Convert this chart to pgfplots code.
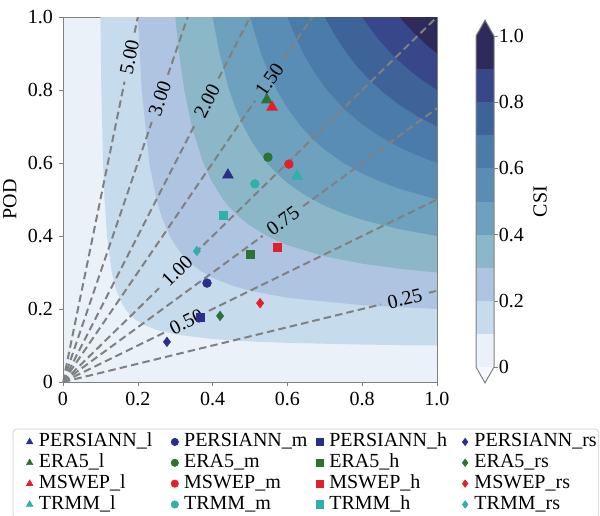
\documentclass[border=0pt]{standalone}
\usepackage{fontspec}
\setmainfont{Liberation Serif}
\usepackage{pgfplots}
\pgfplotsset{compat=1.18}
\definecolor{c0}{HTML}{EAF1F9}
\definecolor{c1}{HTML}{C6DBEC}
\definecolor{c2}{HTML}{AFC4E0}
\definecolor{c3}{HTML}{8CB7C9}
\definecolor{c4}{HTML}{6DA1BD}
\definecolor{c5}{HTML}{5A8DB5}
\definecolor{c6}{HTML}{4B7BA8}
\definecolor{c7}{HTML}{3D6399}
\definecolor{c8}{HTML}{38478A}
\definecolor{c9}{HTML}{2E2A5C}
\definecolor{cbot}{HTML}{F5F9FD}
\definecolor{axgray}{HTML}{808080}
\definecolor{lgray}{HTML}{CCCCCC}
\definecolor{persC}{HTML}{2B2F8C}
\definecolor{eraC}{HTML}{2B7233}
\definecolor{mswC}{HTML}{E3202A}
\definecolor{trmC}{HTML}{2DB1A8}
\begin{document}
\begin{tikzpicture}
\begin{axis}[
  at={(0pt,0pt)}, anchor=south west, scale only axis,
  width=224.4pt, height=219pt,
  xmin=0, xmax=1, ymin=0, ymax=1,
  xtick={0,0.2,0.4,0.6,0.8,1}, xticklabels={0,0.2,0.4,0.6,0.8,1.0},
  ytick={0,0.2,0.4,0.6,0.8,1}, yticklabels={0,0.2,0.4,0.6,0.8,1.0},
  /pgf/number format/assume math mode=true,
  tick align=outside, xtick pos=bottom, ytick pos=left,
  major tick length=2.5pt,
  axis line style={draw=axgray}, tick style={draw=axgray},
  tick label style={font=\fontsize{12}{14}\selectfont},
  ylabel={POD}, ylabel style={font=\fontsize{12}{14}\selectfont},
  axis background/.style={fill=c0},
  legend columns=4,
  legend cell align=left,
  legend image code/.code={\path (-8.3pt,0pt) (5.4pt,0pt); \draw[#1, mark size=2.2pt] plot coordinates {(0pt,0pt)};},
  legend style={at={(axis description cs:-0.1346,-0.128)}, anchor=north west,
    draw=lgray, rounded corners=2pt, inner sep=1.5pt,
    font=\fontsize{12}{12}\selectfont,
    nodes={inner ysep=0.5pt, inner xsep=0pt, text height=8.6pt, text depth=2.9pt},
    /tikz/every even column/.append style={nodes={text width=73pt}}},
]
% CSI filled bands (region CSI >= level)
\addplot[fill=c1, draw=none, forget plot] coordinates {(0.1,1)(0.10256,0.8)(0.10714,0.6)(0.1111,0.5)(0.11765,0.4)(0.13043,0.3)(0.14286,0.25)(0.15493,0.22)(0.16667,0.2)(0.1743,0.19)(0.18182,0.18182)(0.19,0.1743)(0.2,0.16667)(0.22,0.15493)(0.25,0.14286)(0.3,0.13043)(0.4,0.11765)(0.5,0.1111)(0.6,0.10714)(0.8,0.10256)(1,0.1)(1,1)} -- cycle;
\addplot[fill=c2, draw=none, forget plot] coordinates {(0.2,1)(0.21053,0.8)(0.23077,0.6)(0.25,0.5)(0.26471,0.45)(0.28571,0.4)(0.30328,0.37)(0.31818,0.35)(0.33333,0.33333)(0.35,0.31818)(0.37,0.30328)(0.4,0.28571)(0.45,0.26471)(0.5,0.25)(0.6,0.23077)(0.8,0.21053)(1,0.2)(1,1)} -- cycle;
\addplot[fill=c3, draw=none, forget plot] coordinates {(0.3,1)(0.31034,0.9)(0.32432,0.8)(0.34426,0.7)(0.375,0.6)(0.39759,0.55)(0.42857,0.5)(0.44444,0.48)(0.46154,0.46154)(0.48,0.44444)(0.5,0.42857)(0.55,0.39759)(0.6,0.375)(0.7,0.34426)(0.8,0.32432)(0.9,0.31034)(1,0.3)(1,1)} -- cycle;
\addplot[fill=c4, draw=none, forget plot] coordinates {(0.4,1)(0.4186,0.9)(0.44444,0.8)(0.46154,0.75)(0.48276,0.7)(0.5098,0.65)(0.54545,0.6)(0.57143,0.57143)(0.6,0.54545)(0.65,0.5098)(0.7,0.48276)(0.75,0.46154)(0.8,0.44444)(0.9,0.4186)(1,0.4)(1,1)} -- cycle;
\addplot[fill=c5, draw=none, forget plot] coordinates {(0.5,1)(0.52941,0.9)(0.54839,0.85)(0.57143,0.8)(0.6,0.75)(0.63636,0.7)(0.66667,0.66667)(0.7,0.63636)(0.75,0.6)(0.8,0.57143)(0.85,0.54839)(0.9,0.52941)(1,0.5)(1,1)} -- cycle;
\addplot[fill=c6, draw=none, forget plot] coordinates {(0.6,1)(0.61957,0.95)(0.64286,0.9)(0.67105,0.85)(0.70588,0.8)(0.75,0.75)(0.8,0.70588)(0.85,0.67105)(0.9,0.64286)(0.95,0.61957)(1,0.6)(1,1)} -- cycle;
\addplot[fill=c7, draw=none, forget plot] coordinates {(0.7,1)(0.72678,0.95)(0.75904,0.9)(0.79003,0.86)(0.82353,0.82353)(0.86,0.79003)(0.9,0.75904)(0.95,0.72678)(1,0.7)(1,1)} -- cycle;
\addplot[fill=c8, draw=none, forget plot] coordinates {(0.8,1)(0.8203,0.97)(0.84305,0.94)(0.86874,0.91)(0.88889,0.88889)(0.91,0.86874)(0.94,0.84305)(0.97,0.8203)(1,0.8)(1,1)} -- cycle;
\addplot[fill=c9, draw=none, forget plot] coordinates {(0.9,1)(0.91684,0.98)(0.93507,0.96)(0.94737,0.94737)(0.96,0.93507)(0.98,0.91684)(1,0.9)(1,1)} -- cycle;
% bias lines
\pgfplotsset{bias/.style={draw=axgray, line width=1.2pt, dash pattern=on 4.5pt off 2.5pt, forget plot}}
\addplot[bias] coordinates {(0,0)(0.1646,0.823)};
\addplot[bias] coordinates {(0.1914,0.957)(0.2,1)};
\addplot[bias] coordinates {(0,0)(0.2374,0.7122)};
\addplot[bias] coordinates {(0.2806,0.8418)(0.33333,1)};
\addplot[bias] coordinates {(0,0)(0.3545,0.709)};
\addplot[bias] coordinates {(0.4155,0.831)(0.5,1)};
\addplot[bias] coordinates {(0,0)(0.514,0.771)};
\addplot[bias] coordinates {(0.590,0.885)(0.66667,1)};
\addplot[bias] coordinates {(0,0)(0.257,0.257)};
\addplot[bias] coordinates {(0.353,0.353)(1,1)};
\addplot[bias] coordinates {(0,0)(0.534,0.4005)};
\addplot[bias] coordinates {(0.642,0.4815)(1,0.75)};
\addplot[bias] coordinates {(0,0)(0.270,0.135)};
\addplot[bias] coordinates {(0.390,0.195)(1,0.5)};
\addplot[bias] coordinates {(0,0)(0.850,0.2125)};
\addplot[bias] coordinates {(0.978,0.2445)(1,0.25)};
% markers
\addplot[only marks, mark=triangle*, mark size=3.7pt, color=persC] coordinates {(0.441,0.567)};
\addlegendentry{PERSIANN\_l}
\addplot[only marks, mark=*, mark size=2.6pt, color=persC] coordinates {(0.385,0.271)};
\addlegendentry{PERSIANN\_m}
\addplot[only marks, mark=square*, mark size=2.4pt, color=persC] coordinates {(0.366,0.178)};
\addlegendentry{PERSIANN\_h}
\addplot[only marks, mark=diamond*, mark size=2.8pt, color=persC] coordinates {(0.278,0.110)};
\addlegendentry{PERSIANN\_rs}
\addplot[only marks, mark=triangle*, mark size=3.7pt, color=eraC] coordinates {(0.545,0.773)};
\addlegendentry{ERA5\_l}
\addplot[only marks, mark=*, mark size=2.6pt, color=eraC] coordinates {(0.548,0.616)};
\addlegendentry{ERA5\_m}
\addplot[only marks, mark=square*, mark size=2.4pt, color=eraC] coordinates {(0.500,0.351)};
\addlegendentry{ERA5\_h}
\addplot[only marks, mark=diamond*, mark size=2.8pt, color=eraC] coordinates {(0.420,0.181)};
\addlegendentry{ERA5\_rs}
\addplot[only marks, mark=triangle*, mark size=3.7pt, color=mswC] coordinates {(0.559,0.753)};
\addlegendentry{MSWEP\_l}
\addplot[only marks, mark=*, mark size=2.6pt, color=mswC] coordinates {(0.604,0.597)};
\addlegendentry{MSWEP\_m}
\addplot[only marks, mark=square*, mark size=2.4pt, color=mswC] coordinates {(0.572,0.370)};
\addlegendentry{MSWEP\_h}
\addplot[only marks, mark=diamond*, mark size=2.8pt, color=mswC] coordinates {(0.527,0.216)};
\addlegendentry{MSWEP\_rs}
\addplot[only marks, mark=triangle*, mark size=3.7pt, color=trmC] coordinates {(0.626,0.564)};
\addlegendentry{TRMM\_l}
\addplot[only marks, mark=*, mark size=2.6pt, color=trmC] coordinates {(0.513,0.543)};
\addlegendentry{TRMM\_m}
\addplot[only marks, mark=square*, mark size=2.4pt, color=trmC] coordinates {(0.428,0.458)};
\addlegendentry{TRMM\_h}
\addplot[only marks, mark=diamond*, mark size=2.8pt, color=trmC] coordinates {(0.358,0.359)};
\addlegendentry{TRMM\_rs}
% bias labels
\begin{scope}[every node/.style={font=\fontsize{12}{14}\selectfont, inner sep=0pt}]
\node[rotate=78.4] at (axis cs:0.178,0.89) {5.00};
\node[rotate=71.1] at (axis cs:0.259,0.777) {3.00};
\node[rotate=62.9] at (axis cs:0.385,0.77) {2.00};
\node[rotate=55.7] at (axis cs:0.552,0.828) {1.50};
\node[rotate=44.3] at (axis cs:0.305,0.305) {1.00};
\node[rotate=36.2] at (axis cs:0.588,0.441) {0.75};
\node[rotate=26.0] at (axis cs:0.330,0.165) {0.50};
\node[rotate=13.7] at (axis cs:0.914,0.2285) {0.25};
\end{scope}
\end{axis}
% colorbar
\begin{axis}[
  at={(247.8pt,9pt)}, anchor=south west, scale only axis,
  width=10.8pt, height=198.6pt,
  xmin=0, xmax=1, ymin=0, ymax=1,
  axis line style={draw=none},
  xtick=\empty,
  ytick={0,0.2,0.4,0.6,0.8,1}, yticklabels={0,0.2,0.4,0.6,0.8,1.0},
  ytick pos=right, yticklabel pos=right,
  tick align=outside, major tick length=2.4pt,
  tick style={draw=axgray},
  tick label style={font=\fontsize{12}{14}\selectfont},
  yticklabel style={xshift=-3pt},
  clip=false,
  ylabel={CSI},
  ylabel style={at={(axis description cs:1,0.5)}, anchor=center, yshift=-27.6pt, font=\fontsize{12}{14}\selectfont},
]
\addplot[fill=c0, draw=none] coordinates {(0,0)(1,0)(1,0.1)(0,0.1)} -- cycle;
\addplot[fill=c1, draw=none] coordinates {(0,0.1)(1,0.1)(1,0.2)(0,0.2)} -- cycle;
\addplot[fill=c2, draw=none] coordinates {(0,0.2)(1,0.2)(1,0.3)(0,0.3)} -- cycle;
\addplot[fill=c3, draw=none] coordinates {(0,0.3)(1,0.3)(1,0.4)(0,0.4)} -- cycle;
\addplot[fill=c4, draw=none] coordinates {(0,0.4)(1,0.4)(1,0.5)(0,0.5)} -- cycle;
\addplot[fill=c5, draw=none] coordinates {(0,0.5)(1,0.5)(1,0.6)(0,0.6)} -- cycle;
\addplot[fill=c6, draw=none] coordinates {(0,0.6)(1,0.6)(1,0.7)(0,0.7)} -- cycle;
\addplot[fill=c7, draw=none] coordinates {(0,0.7)(1,0.7)(1,0.8)(0,0.8)} -- cycle;
\addplot[fill=c8, draw=none] coordinates {(0,0.8)(1,0.8)(1,0.9)(0,0.9)} -- cycle;
\addplot[fill=c9, draw=none] coordinates {(0,0.9)(1,0.9)(1,1)(0,1)} -- cycle;
\addplot[fill=c9, draw=none] coordinates {(0,1)(0.5,1.048)(1,1)} -- cycle;
\addplot[fill=cbot, draw=none] coordinates {(0,0)(0.5,-0.048)(1,0)} -- cycle;
\addplot[draw=axgray, line width=0.6pt] coordinates {(0,0)(0.5,-0.048)(1,0)(1,1)(0.5,1.048)(0,1)} -- cycle;
\end{axis}
\pgfresetboundingbox
\path (-37.8pt,-79.8pt) rectangle (322.2pt,229.2pt);
\end{tikzpicture}
\end{document}
